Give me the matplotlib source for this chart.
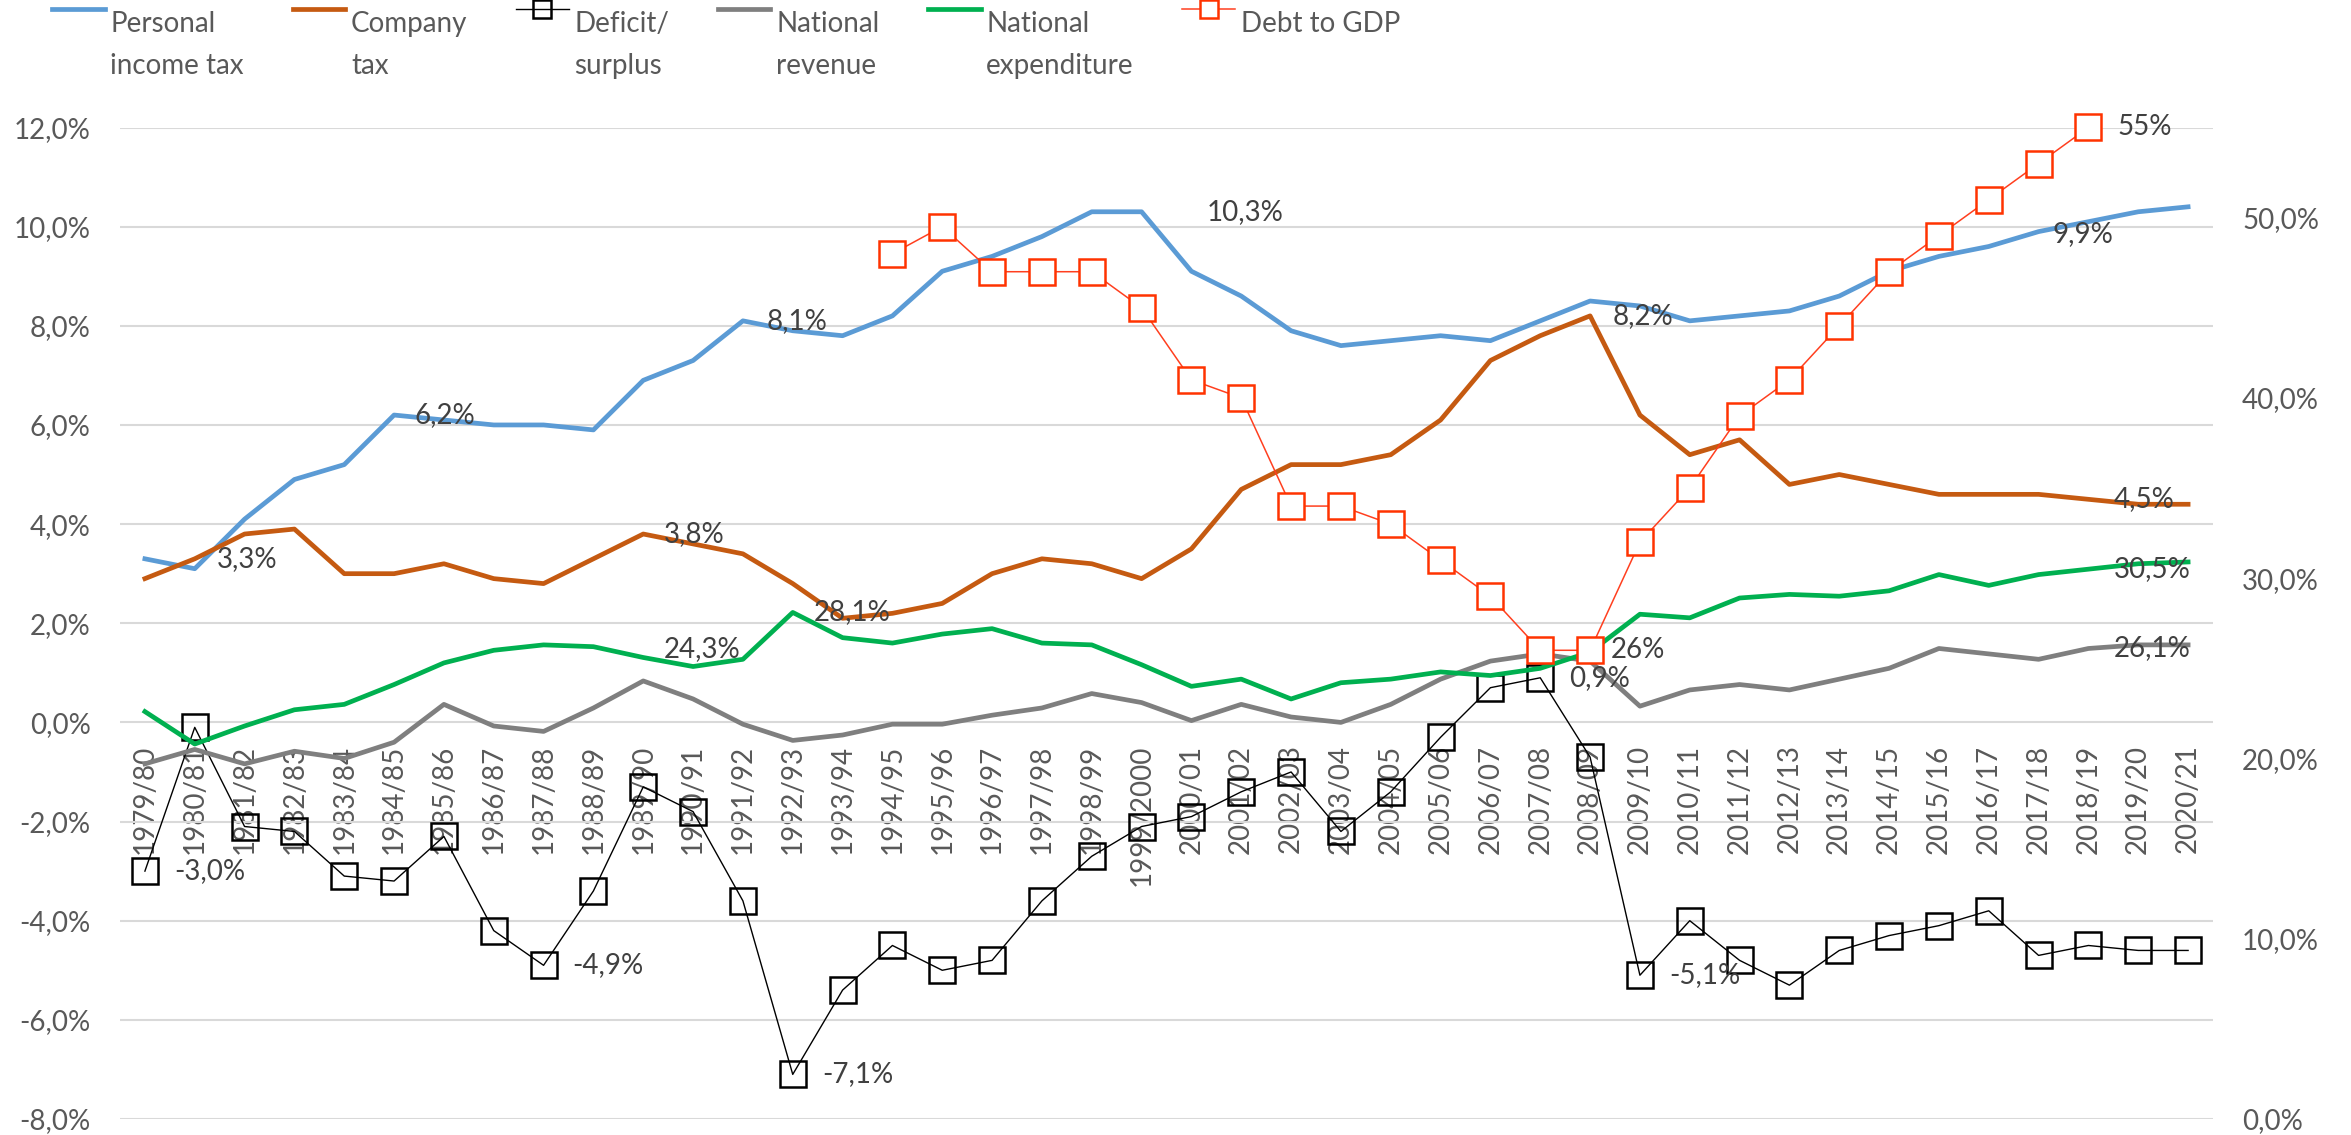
import numpy as np
import matplotlib
matplotlib.use("Agg")
import matplotlib.pyplot as plt
from matplotlib.ticker import FuncFormatter, MultipleLocator
from matplotlib.legend_handler import HandlerLine2D
from matplotlib.transforms import Affine2D
from matplotlib.font_manager import FontProperties

plt.rcParams['font.family'] = ['Lato', 'DejaVu Sans']

# ---------- data (percent) ----------
years = ['1979/80', '1980/81', '1981/82', '1982/83', '1983/84', '1984/85', '1985/86',
         '1986/87', '1987/88', '1988/89', '1989/90', '1990/91', '1991/92', '1992/93',
         '1993/94', '1994/95', '1995/96', '1996/97', '1997/98', '1998/99', '1999/2000',
         '2000/01', '2001/02', '2002/03', '2003/04', '2004/05', '2005/06', '2006/07',
         '2007/08', '2008/09', '2009/10', '2010/11', '2011/12', '2012/13', '2013/14',
         '2014/15', '2015/16', '2016/17', '2017/18', '2018/19', '2019/20', '2020/21']

personal_income_tax = [3.3, 3.1, 4.1, 4.9, 5.2, 6.2, 6.1, 6.0, 6.0, 5.9, 6.9, 7.3, 8.1, 7.9,
                       7.8, 8.2, 9.1, 9.4, 9.8, 10.3, 10.3, 9.1, 8.6, 7.9, 7.6, 7.7, 7.8, 7.7, 8.1,
                       8.5, 8.4, 8.1, 8.2, 8.3, 8.6, 9.1, 9.4, 9.6, 9.9, 10.1, 10.3, 10.4]

company_tax = [2.9, 3.3, 3.8, 3.9, 3.0, 3.0, 3.2, 2.9, 2.8, 3.3, 3.8, 3.6, 3.4, 2.8,
               2.1, 2.2, 2.4, 3.0, 3.3, 3.2, 2.9, 3.5, 4.7, 5.2, 5.2, 5.4, 6.1, 7.3, 7.8,
               8.2, 6.2, 5.4, 5.7, 4.8, 5.0, 4.8, 4.6, 4.6, 4.6, 4.5, 4.4, 4.4]

deficit = [-3.0, -0.1, -2.1, -2.2, -3.1, -3.2, -2.3, -4.2, -4.9, -3.4, -1.3, -1.8, -3.6, -7.1,
           -5.4, -4.5, -5.0, -4.8, -3.6, -2.7, -2.1, -1.9, -1.4, -1.0, -2.2, -1.4, -0.3, 0.7, 0.9,
           -0.7, -5.1, -4.0, -4.8, -5.3, -4.6, -4.3, -4.1, -3.8, -4.7, -4.5, -4.6, -4.6]

# secondary axis
national_revenue = [19.7, 20.5, 19.7, 20.4, 20.0, 20.9, 23.0, 21.8, 21.5, 22.8, 24.3, 23.3, 21.9, 21.0,
                    21.3, 21.9, 21.9, 22.4, 22.8, 23.6, 23.1, 22.1, 23.0, 22.3, 22.0, 23.0, 24.4, 25.4, 25.8,
                    25.4, 22.9, 23.8, 24.1, 23.8, 24.4, 25.0, 26.1, 25.8, 25.5, 26.1, 26.3, 26.3]

national_expenditure = [22.6, 20.8, 21.8, 22.7, 23.0, 24.1, 25.3, 26.0, 26.3, 26.2, 25.6, 25.1, 25.5, 28.1,
                        26.7, 26.4, 26.9, 27.2, 26.4, 26.3, 25.2, 24.0, 24.4, 23.3, 24.2, 24.4, 24.8, 24.6, 25.0,
                        25.9, 28.0, 27.8, 28.9, 29.1, 29.0, 29.3, 30.2, 29.6, 30.2, 30.5, 30.8, 30.9]

nan = np.nan
debt_to_gdp = [nan] * 15 + [48.0, 49.5, 47.0, 47.0, 47.0, 45.0, 41.0, 40.0, 34.0, 34.0, 33.0, 31.0,
                            29.0, 26.0, 26.0, 32.0, 35.0, 39.0, 41.0, 44.0, 47.0, 49.0, 51.0, 53.0,
                            55.0, nan, nan]

# ---------- style ----------
FS = 20
TICK_C = '#595959'
LABEL_C = '#404040'
GRID_C = '#D9D9D9'


def pct(v):
    return np.array(v, dtype=float) / 100


def comma_pct(v, _=None):
    return f'{v * 100:.1f}%'.replace('.', ',')


fig = plt.figure(figsize=(23.51, 11.35), dpi=100)
ax = fig.add_axes([120 / 2351, 16 / 1135, 2093 / 2351, 991.5 / 1135])
ax2 = ax.twinx()

x = np.arange(len(years))

l_pit, = ax.plot(x, pct(personal_income_tax), color='#5B9BD5', lw=3.4,
                 solid_joinstyle='round', label='Personal\nincome tax', zorder=3)
l_ct, = ax.plot(x, pct(company_tax), color='#C55A11', lw=3.4,
                solid_joinstyle='round', label='Company\ntax', zorder=3)
l_def, = ax.plot(x, pct(deficit), color='black', lw=1.0, marker='s', ms=19,
                 mfc='none', mec='black', mew=1.8, label='Deficit/\nsurplus', zorder=4,
                 clip_on=False)

l_rev, = ax2.plot(x, pct(national_revenue), color='#7F7F7F', lw=3.4,
                  solid_joinstyle='round', label='National\nrevenue', zorder=3)
l_exp, = ax2.plot(x, pct(national_expenditure), color='#00B050', lw=3.4,
                  solid_joinstyle='round', label='National\nexpenditure', zorder=3)
l_debt, = ax2.plot(x, pct(debt_to_gdp), color='#FF3F1F', lw=1.1, marker='s', ms=19,
                   mfc='white', mec='#FF3300', mew=1.8, label='Debt to GDP\n ', zorder=4,
                   clip_on=False)

# ---------- axes ----------
ax.set_xlim(-0.5, len(years) - 0.5)
ax.set_ylim(-0.08, 0.12)
ax.yaxis.set_major_locator(MultipleLocator(0.02))
ax.yaxis.set_major_formatter(FuncFormatter(comma_pct))
ax2.set_ylim(0, 0.55)
ax2.set_yticks(np.arange(0, 0.51, 0.1))
ax2.yaxis.set_major_formatter(FuncFormatter(comma_pct))

# category labels hang from the 0 line
ax.spines['bottom'].set_position(('data', 0))
ax.set_xticks(x, labels=years)
ax.tick_params(axis='x', length=0, pad=16, labelrotation=90, labelsize=FS, labelcolor=TICK_C)
ax.tick_params(axis='y', length=0, pad=21, labelsize=FS, labelcolor=TICK_C)
ax2.tick_params(axis='y', length=0, pad=21, labelsize=FS, labelcolor=TICK_C)

for a in (ax, ax2):
    for s in a.spines.values():
        s.set_visible(False)

ax.grid(axis='y', color=GRID_C, lw=1.5)
ax.set_axisbelow(True)

# ---------- data labels ----------
def fmt1(v):
    return f'{v:.1f}%'.replace('.', ',')


def fmt0(v):
    return f'{v:.0f}%'


series = {
    'pit': (personal_income_tax, ax, fmt1),
    'ct': (company_tax, ax, fmt1),
    'def': (deficit, ax, fmt1),
    'rev': (national_revenue, ax2, fmt1),
    'exp': (national_expenditure, ax2, fmt1),
    'debt': (debt_to_gdp, ax2, fmt0),
}

# (series, year, dx pt, dy pt)
data_labels = [
    ('pit', '1984/85', 15, 0), ('pit', '1991/92', 17, 0), ('pit', '1999/2000', 47, 0),
    ('pit', '2017/18', 10, -2),
    ('ct', '1980/81', 16, 0), ('ct', '1989/90', 15, 0), ('ct', '2008/09', 16, 0),
    ('ct', '2018/19', 18, 0),
    ('def', '1979/80', 21, 0), ('def', '1987/88', 21, 0), ('def', '1992/93', 21, 0),
    ('def', '2007/08', 21, 0), ('def', '2009/10', 21, 0),
    ('rev', '1989/90', 15, 23), ('rev', '2018/19', 18, 0),
    ('exp', '1992/93', 15, 0), ('exp', '2018/19', 18, 0),
    ('debt', '2008/09', 15, 0), ('debt', '2018/19', 21, 0),
]

for key, yr, dx, dy in data_labels:
    vals, axis, fmt = series[key]
    i = years.index(yr)
    v = vals[i]
    ax2.annotate(fmt(v), xy=(i, v / 100), xycoords=axis.transData,
                 xytext=(dx, dy), textcoords='offset points',
                 ha='left', va='center', fontsize=FS, color=LABEL_C, zorder=10)

# ---------- legend ----------
renderer = fig.canvas.get_renderer()
_, lp_h, lp_d = renderer.get_text_width_height_descent('lp', FontProperties(family=['Lato'], size=FS), ismath=False)
step_px = 37.0
line_sp = step_px / (lp_h - lp_d)
shift_pt = step_px * 72 / fig.dpi


class FirstLineHandler(HandlerLine2D):
    # put the legend key beside the first line of a two-line label
    def __init__(self, shift, **kw):
        super().__init__(**kw)
        self.shift = shift

    def create_artists(self, legend, orig_handle, xdescent, ydescent, width, height, fontsize, trans):
        arts = super().create_artists(legend, orig_handle, xdescent, ydescent, width, height, fontsize, trans)
        t = Affine2D().translate(0, self.shift) + trans
        for a in arts:
            a.set_transform(t)
        return arts


handles = [l_pit, l_ct, l_def, l_rev, l_exp, l_debt]
hmap = {h: FirstLineHandler(shift_pt) for h in handles}
leg = fig.legend(handles=handles, loc='upper left', bbox_to_anchor=(52 / 2351, 1 - 11 / 1135),
                 ncol=6, frameon=False, fontsize=FS, handlelength=1.9, handletextpad=0.2,
                 columnspacing=1.75, borderaxespad=0, borderpad=0, markerscale=0.7,
                 handler_map=hmap)
for t in leg.get_texts():
    t.set_color(TICK_C)
    t.set_linespacing(line_sp)

fig.savefig('out.png', dpi=100)
